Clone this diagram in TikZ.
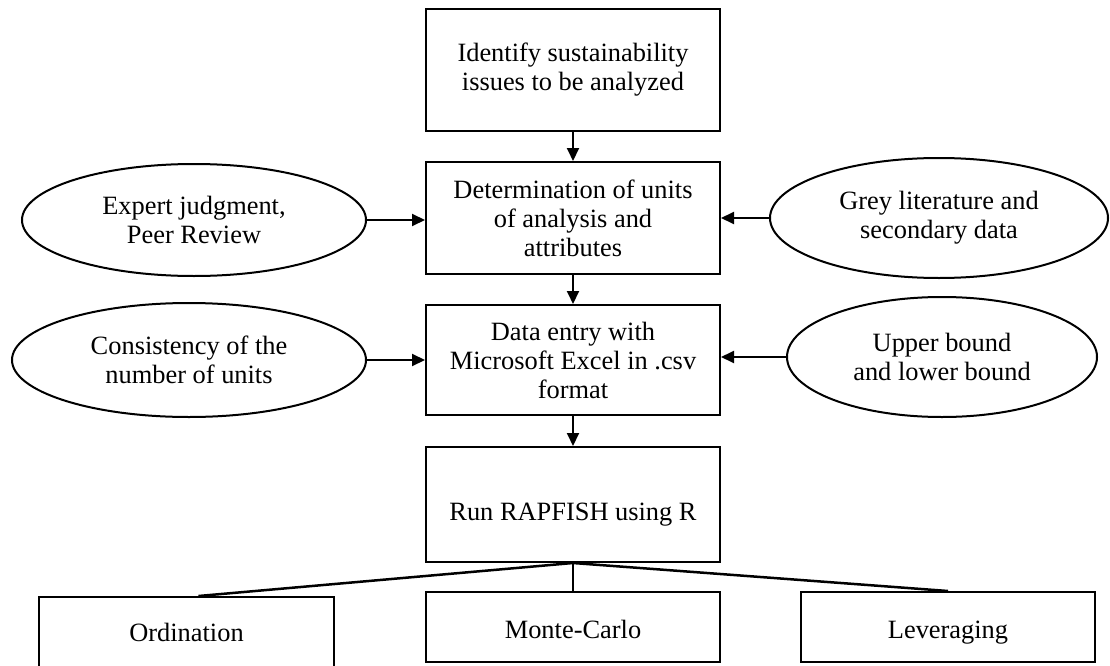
\documentclass[tikz,border=0pt]{standalone}
\usepackage{fontspec}
\setmainfont{Liberation Serif}
\usetikzlibrary{shapes.geometric,arrows.meta}
\begin{document}
\begin{tikzpicture}[x=1pt,y=-1pt,
  box/.style={draw,line width=2pt,inner sep=0pt,align=center,font=\fontsize{26.4}{29}\selectfont},
  oval/.style={draw,ellipse,line width=2pt,inner sep=0pt,align=center,font=\fontsize{26.4}{29}\selectfont},
  arr/.style={line width=2pt,-{Triangle[length=13pt,width=12pt]}},
  link/.style={line width=2.5pt}]
\useasboundingbox (0,0) rectangle (1110,666);
\fill[white] (0,0) rectangle (1110,666);
\node[box,minimum width=294,minimum height=122] (b1) at (573,70) {Identify sustainability\\issues to be analyzed};
\node[box,minimum width=294,minimum height=112] (b2) at (573,218) {Determination of units\\of analysis and\\attributes};
\node[box,minimum width=294,minimum height=110] (b3) at (573,360) {Data entry with\\Microsoft Excel in .csv\\format};
\node[box,minimum width=294,minimum height=115,text height=32pt,text depth=0pt] (b4) at (573,504.5) {Run RAPFISH using R};
\node[box,minimum width=295,minimum height=74,text height=18pt,text depth=2.6pt] (ord) at (186.5,634) {Ordination};
\node[box,minimum width=294,minimum height=70,text height=24pt,text depth=0.6pt] (mc) at (573,627) {Monte-Carlo};
\node[box,minimum width=294,minimum height=70,text height=24pt,text depth=0.6pt] (lev) at (948,627) {Leveraging};
\node[oval,minimum width=344,minimum height=112] (exp) at (194,220) {Expert judgment,\\Peer Review};
\node[oval,minimum width=354,minimum height=114] (con) at (189,360) {Consistency of the\\number of units};
\node[oval,minimum width=338,minimum height=120] (grey) at (939,218) {Grey literature and\\secondary data};
\node[oval,minimum width=310,minimum height=120] (up) at (942,357) {Upper bound\\and lower bound};
\draw[arr] (b1.south) -- (b2.north);
\draw[arr] (b2.south) -- (b3.north);
\draw[arr] (b3.south) -- (b4.north);
\draw[arr] (exp.east) -- (exp.east -| b2.west);
\draw[arr] (grey.west) -- (grey.west -| b2.east);
\draw[arr] (con.east) -- (con.east -| b3.west);
\draw[arr] (up.west) -- (up.west -| b3.east);
\draw[link] (b4.south) -- ([xshift=12pt]ord.north);
\draw[link] (b4.south) -- (lev.north);
\draw[line width=1.5pt] (b4.south) -- (mc.north);
\end{tikzpicture}
\end{document}
